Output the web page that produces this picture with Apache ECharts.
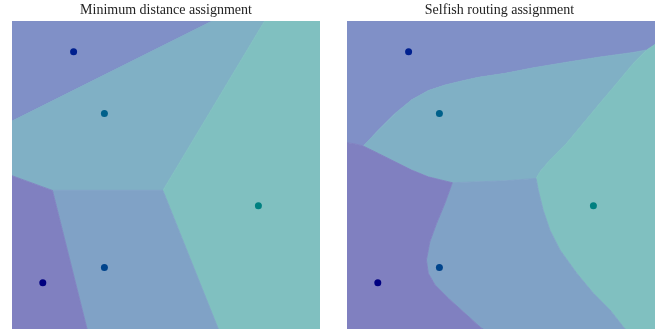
<!DOCTYPE html>
<html>
<head>
<meta charset="utf-8">
<script src="https://cdn.jsdelivr.net/npm/echarts@6/dist/echarts.min.js"></script>
<style>
  html, body { margin: 0; padding: 0; background: #ffffff; }
  #chart { width: 672px; height: 331px; }
</style>
</head>
<body>
<div id="chart"></div>
<script>
// Facility locations (unit square, y up) and their colours
const facilityX = [0.2, 0.3, 0.8, 0.3, 0.1];
const facilityY = [0.9, 0.7, 0.4, 0.2, 0.15];
const facilityColors = ['#00208f', '#00608a', '#008080', '#00448c', '#000080'];

const panelTitles = ['Minimum distance assignment', 'Selfish routing assignment'];

// Equilibrium boundaries of the selfish routing assignment, as [x, y] polylines
const edge15 = [[0, 0.605], [0.026, 0.601], [0.053, 0.594]];
const edge12 = [[0.053, 0.594], [0.102, 0.646], [0.156, 0.700], [0.210, 0.744], [0.264, 0.774],
  [0.318, 0.792], [0.372, 0.805], [0.426, 0.817], [0.513, 0.830], [0.605, 0.848],
  [0.713, 0.866], [0.821, 0.883], [0.930, 0.898], [0.973, 0.906]];
const edge13 = [[0.973, 0.906], [1, 0.924]];
const edge23 = [[0.973, 0.906], [0.930, 0.863], [0.876, 0.798], [0.821, 0.733], [0.767, 0.668],
  [0.713, 0.603], [0.659, 0.549], [0.627, 0.511], [0.614, 0.489]];
const edge34 = [[0.614, 0.489], [0.621, 0.451], [0.637, 0.386], [0.659, 0.321], [0.692, 0.256],
  [0.746, 0.181], [0.800, 0.116], [0.854, 0.062], [0.897, 0.007], [0.903, 0]];
const edge24 = [[0.614, 0.489], [0.513, 0.481], [0.342, 0.475]];
const edge25 = [[0.342, 0.475], [0.264, 0.494], [0.210, 0.516], [0.156, 0.543], [0.102, 0.570], [0.053, 0.594]];
const edge45 = [[0.342, 0.475], [0.318, 0.408], [0.291, 0.343], [0.269, 0.283], [0.258, 0.224],
  [0.264, 0.181], [0.286, 0.143], [0.329, 0.100], [0.383, 0.051], [0.437, 0.002], [0.442, 0]];

const rev = a => a.slice().reverse();

// Region outlines for the selfish routing panel, one per facility
const selfishRegions = [
  [[0, 1], [1, 1], ...rev(edge13), ...rev(edge12), ...rev(edge15)],
  [...edge12, ...edge23, ...edge24, ...edge25],
  [[1, 0.924], [1, 0], ...rev(edge34), ...rev(edge23)],
  [...edge34, [0.442, 0], ...rev(edge45), ...rev(edge24)],
  [[0, 0], ...edge15, ...rev(edge25), ...edge45]
];

// Voronoi cells for nearest-facility assignment: clip the unit square by bisector half-planes
function clip(poly, a, b, c) {
  // keep points with a*x + b*y <= c
  const out = [];
  for (let i = 0; i < poly.length; i++) {
    const p = poly[i], q = poly[(i + 1) % poly.length];
    const fp = a * p[0] + b * p[1] - c, fq = a * q[0] + b * q[1] - c;
    if (fp <= 0) out.push(p);
    if ((fp < 0 && fq > 0) || (fp > 0 && fq < 0)) {
      const t = fp / (fp - fq);
      out.push([p[0] + t * (q[0] - p[0]), p[1] + t * (q[1] - p[1])]);
    }
  }
  return out;
}
const nearestRegions = facilityX.map((xi, i) => {
  let poly = [[0, 0], [1, 0], [1, 1], [0, 1]];
  const yi = facilityY[i];
  facilityX.forEach((xj, j) => {
    if (j === i) return;
    const yj = facilityY[j];
    const a = 2 * (xj - xi), b = 2 * (yj - yi);
    const c = xj * xj + yj * yj - xi * xi - yi * yi;
    poly = clip(poly, a, b, c);
  });
  return poly;
});

// Tint a facility colour halfway toward white for its service region
function tint(hex) {
  const n = parseInt(hex.slice(1), 16);
  const ch = [(n >> 16) & 255, (n >> 8) & 255, n & 255].map(v => Math.round(v * 0.5 + 127.5));
  return 'rgb(' + ch.join(',') + ')';
}

function regionSeries(regions, gridIndex) {
  return {
    type: 'custom',
    xAxisIndex: gridIndex,
    yAxisIndex: gridIndex,
    silent: true,
    clip: true,
    data: regions.map((_, i) => [i]),
    renderItem: function (params, api) {
      const idx = api.value(0);
      const pts = regions[idx].map(p => api.coord(p));
      const col = tint(facilityColors[idx]);
      return {
        type: 'polygon',
        shape: { points: pts },
        style: { fill: col, stroke: col, lineWidth: 0.8 }
      };
    }
  };
}

function pointSeries(gridIndex) {
  return {
    type: 'scatter',
    xAxisIndex: gridIndex,
    yAxisIndex: gridIndex,
    symbolSize: 7,
    silent: true,
    z: 5,
    data: facilityX.map((x, i) => ({
      value: [x, facilityY[i]],
      itemStyle: { color: facilityColors[i], opacity: 1 }
    }))
  };
}

const titleStyle = {
  fontFamily: 'Liberation Serif',
  fontSize: 14,
  fill: '#222222',
  align: 'center',
  verticalAlign: 'middle'
};

const chart = echarts.init(document.getElementById('chart'), null, { renderer: 'canvas' });
const axisBase = { type: 'value', min: 0, max: 1, show: false };
chart.setOption({
  animation: false,
  backgroundColor: '#ffffff',
  graphic: [
    { type: 'text', x: 166, y: 10, style: Object.assign({ text: panelTitles[0] }, titleStyle) },
    { type: 'text', x: 499.5, y: 10, style: Object.assign({ text: panelTitles[1] }, titleStyle) }
  ],
  grid: [
    { left: 12, top: 21, width: 308, height: 308 },
    { left: 347, top: 21, width: 308, height: 308 }
  ],
  xAxis: [Object.assign({ gridIndex: 0 }, axisBase), Object.assign({ gridIndex: 1 }, axisBase)],
  yAxis: [Object.assign({ gridIndex: 0 }, axisBase), Object.assign({ gridIndex: 1 }, axisBase)],
  series: [
    regionSeries(nearestRegions, 0),
    regionSeries(selfishRegions, 1),
    pointSeries(0),
    pointSeries(1)
  ]
});
</script>
</body>
</html>
